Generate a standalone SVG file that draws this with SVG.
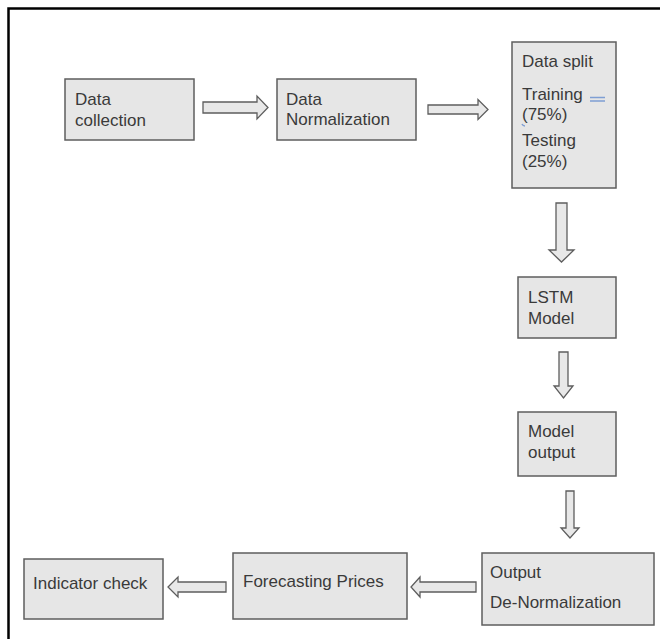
<svg xmlns="http://www.w3.org/2000/svg" width="660" height="639" viewBox="0 0 660 639">
  <style>
    .box { fill: #e6e6e6; stroke: #5e5e5e; stroke-width: 1.5; }
    .lbl { font-family: "Liberation Sans", Arial, sans-serif; font-size: 17px; fill: #3a3a3a; }
    .arr { fill: #e8e8e8; stroke: #5e5e5e; stroke-width: 1.3; stroke-linejoin: miter; }
    .mark { stroke: #7f9fd4; stroke-width: 1.6; fill: none; }
  </style>
  <rect x="0" y="0" width="660" height="639" fill="#ffffff"/>
  <path d="M 8.5 639 V 8.5 H 660" fill="none" stroke="#000000" stroke-width="2.5"/>

  <g id="n1">
    <rect class="box" x="65" y="79" width="129" height="61"/>
    <text class="lbl" x="75" y="105">Data</text>
    <text class="lbl" x="75" y="126">collection</text>
  </g>
  <g id="n2">
    <rect class="box" x="277" y="79" width="139" height="61"/>
    <text class="lbl" x="286" y="105">Data</text>
    <text class="lbl" x="286" y="125">Normalization</text>
  </g>
  <g id="n3">
    <rect class="box" x="512" y="42" width="104" height="146"/>
    <text class="lbl" x="522" y="67">Data split</text>
    <text class="lbl" x="522" y="100">Training</text>
    <text class="lbl" x="522" y="120">(75%)</text>
    <text class="lbl" x="522" y="146">Testing</text>
    <text class="lbl" x="522" y="167">(25%)</text>
    <path class="mark" d="M 590 97.5 H 605 M 590 101 H 605"/>
    <path class="mark" d="M 522 124 q 1 2 3 2" stroke-width="1.2"/>
  </g>
  <g id="n4">
    <rect class="box" x="518" y="277" width="98" height="61"/>
    <text class="lbl" x="528" y="303">LSTM</text>
    <text class="lbl" x="528" y="324">Model</text>
  </g>
  <g id="n5">
    <rect class="box" x="518" y="412" width="98" height="64"/>
    <text class="lbl" x="528" y="437">Model</text>
    <text class="lbl" x="528" y="458">output</text>
  </g>
  <g id="n6">
    <rect class="box" x="482" y="553" width="172" height="72"/>
    <text class="lbl" x="490" y="578">Output</text>
    <text class="lbl" x="490" y="608">De-Normalization</text>
  </g>
  <g id="n7">
    <rect class="box" x="233" y="553" width="174" height="66"/>
    <text class="lbl" x="243" y="587">Forecasting Prices</text>
  </g>
  <g id="n8">
    <rect class="box" x="24" y="559" width="139" height="60"/>
    <text class="lbl" x="33" y="589">Indicator check</text>
  </g>

  <g id="connectors">
    <polygon class="arr" points="203,102 257,102 257,96 268,107.5 257,119 257,113 203,113"/>
    <polygon class="arr" points="428,105 478,105 478,99.5 488,109.5 478,119.5 478,114 428,114"/>
    <polygon class="arr" points="556,203 567,203 567,250 574,250 561.5,262 549,250 556,250"/>
    <polygon class="arr" points="559,352 568,352 568,386 573,386 563.5,398 554,386 559,386"/>
    <polygon class="arr" points="566,491 574,491 574,528 579,528 570,538 561,528 566,528"/>
    <polygon class="arr" points="476,582 420,582 420,577 411,587 420,597 420,592 476,592"/>
    <polygon class="arr" points="226,582 178,582 178,577 168,587 178,597 178,592 226,592"/>
  </g>
</svg>
